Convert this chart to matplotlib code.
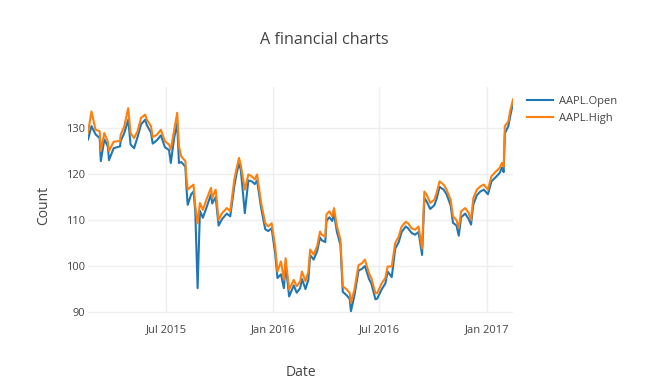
import matplotlib
matplotlib.use('Agg')
import matplotlib.pyplot as plt
import pandas as pd

# values
dates = [
    '2015-02-17', '2015-02-23', '2015-03-02', '2015-03-09', '2015-03-11', '2015-03-17',
    '2015-03-23', '2015-03-25', '2015-04-02', '2015-04-13', '2015-04-14', '2015-04-20',
    '2015-04-27', '2015-05-01', '2015-05-07', '2015-05-13', '2015-05-19', '2015-05-26',
    '2015-05-29', '2015-06-05', '2015-06-08', '2015-06-15', '2015-06-22', '2015-06-29',
    '2015-07-06', '2015-07-09', '2015-07-15', '2015-07-20', '2015-07-23', '2015-07-27',
    '2015-08-03', '2015-08-05', '2015-08-07', '2015-08-13', '2015-08-17', '2015-08-20',
    '2015-08-24', '2015-08-28', '2015-09-02', '2015-09-08', '2015-09-16', '2015-09-18',
    '2015-09-24', '2015-09-29', '2015-10-05', '2015-10-13', '2015-10-19', '2015-10-26',
    '2015-10-30', '2015-11-03', '2015-11-06', '2015-11-13', '2015-11-19', '2015-11-25',
    '2015-11-30', '2015-12-04', '2015-12-11', '2015-12-18', '2015-12-23', '2015-12-29',
    '2016-01-04', '2016-01-08', '2016-01-14', '2016-01-19', '2016-01-22', '2016-01-28',
    '2016-02-05', '2016-02-10', '2016-02-16', '2016-02-19', '2016-02-25', '2016-03-01',
    '2016-03-04', '2016-03-10', '2016-03-16', '2016-03-21', '2016-03-24', '2016-03-30',
    '2016-04-01', '2016-04-06', '2016-04-11', '2016-04-14', '2016-04-19', '2016-04-25',
    '2016-04-29', '2016-05-06', '2016-05-11', '2016-05-13', '2016-05-19', '2016-05-26',
    '2016-06-01', '2016-06-06', '2016-06-13', '2016-06-17', '2016-06-24', '2016-06-27',
    '2016-07-05', '2016-07-11', '2016-07-15', '2016-07-22', '2016-07-28', '2016-08-03',
    '2016-08-08', '2016-08-15', '2016-08-19', '2016-08-25', '2016-08-31', '2016-09-06',
    '2016-09-12', '2016-09-16', '2016-09-20', '2016-09-26', '2016-10-03', '2016-10-07',
    '2016-10-12', '2016-10-19', '2016-10-24', '2016-10-31', '2016-11-04', '2016-11-10',
    '2016-11-14', '2016-11-18', '2016-11-25', '2016-12-01', '2016-12-05', '2016-12-09',
    '2016-12-15', '2016-12-21', '2016-12-27', '2017-01-03', '2017-01-09', '2017-01-17',
    '2017-01-23', '2017-01-27', '2017-01-30', '2017-02-01', '2017-02-07', '2017-02-10',
    '2017-02-15',
]

aapl_high = [
    129.0, 133.6, 129.6, 129.3, 125.0, 128.9,
    127.0, 125.0, 127.0, 127.2, 128.5, 130.3,
    134.3, 128.9, 127.8, 129.3, 132.2, 132.9,
    131.8, 130.4, 128.0, 128.5, 129.6, 127.1,
    126.4, 125.3, 129.6, 133.3, 126.0, 123.8,
    122.8, 118.8, 116.6, 117.3, 117.7, 113.0,
    109.3, 113.7, 112.2, 114.4, 117.0, 114.8,
    116.6, 110.0, 111.5, 112.6, 111.9, 118.8,
    121.3, 123.5, 122.0, 116.6, 119.9, 119.5,
    118.8, 119.9, 113.7, 109.3, 108.6, 109.3,
    104.3, 98.8, 101.0, 97.0, 101.7, 94.9,
    97.0, 95.6, 96.7, 98.8, 96.7, 98.8,
    103.6, 102.5, 104.3, 107.5, 106.8, 106.4,
    111.2, 111.9, 110.8, 112.6, 108.6, 105.7,
    95.6, 94.9, 94.1, 92.0, 94.9, 100.2,
    100.6, 101.4, 98.4, 97.4, 94.1, 94.1,
    96.3, 97.4, 99.9, 99.9, 105.0, 106.4,
    108.6, 109.6, 109.3, 108.2, 107.9, 108.6,
    103.8, 116.2, 115.5, 113.7, 114.4, 115.9,
    118.4, 117.7, 116.6, 114.4, 110.8, 110.0,
    108.2, 111.9, 112.6, 111.5, 110.0, 114.8,
    116.6, 117.3, 117.7, 116.6, 119.5, 120.6,
    121.3, 122.4, 121.6, 130.4, 131.4, 133.6,
    136.2,
]

aapl_open = [
    127.5, 130.4, 128.6, 127.8, 122.8, 127.5,
    126.0, 123.0, 125.6, 126.0, 127.2, 128.8,
    131.8, 126.4, 125.6, 128.0, 130.8, 131.8,
    130.6, 129.0, 126.6, 127.3, 128.4, 125.8,
    125.2, 122.4, 128.0, 131.0, 122.4, 122.6,
    121.6, 116.8, 113.3, 115.6, 116.2, 111.8,
    95.2, 112.0, 110.5, 112.6, 115.6, 113.6,
    115.0, 108.8, 110.2, 111.4, 110.8, 117.4,
    120.2, 122.2, 121.0, 111.5, 118.6, 118.4,
    117.8, 118.6, 112.6, 108.0, 107.6, 108.2,
    102.8, 97.4, 98.2, 95.2, 100.4, 93.4,
    95.8, 94.2, 95.2, 97.2, 95.0, 97.0,
    102.4, 101.4, 103.2, 106.2, 105.6, 105.2,
    109.8, 110.6, 109.8, 111.4, 107.4, 104.6,
    94.4, 93.6, 92.8, 90.2, 93.6, 99.0,
    99.4, 100.0, 97.2, 96.2, 92.8, 92.9,
    95.0, 96.2, 98.8, 97.6, 103.8, 105.2,
    107.4, 108.6, 108.2, 107.2, 106.8, 107.4,
    102.4, 114.8, 114.0, 112.4, 113.2, 114.6,
    117.2, 116.6, 115.6, 113.2, 109.4, 108.8,
    106.6, 110.6, 111.4, 110.2, 109.0, 113.4,
    115.4, 116.2, 116.6, 115.6, 118.4, 119.4,
    120.2, 121.4, 120.4, 128.8, 130.4, 132.4,
    135.4,
]

x = pd.to_datetime(dates)
yticks = [90, 100, 110, 120, 130]
xticks = pd.to_datetime(['2015-07-01', '2016-01-01', '2016-07-01', '2017-01-01'])
xticklabels = ['Jul 2015', 'Jan 2016', 'Jul 2016', 'Jan 2017']

plt.rcParams['font.family'] = ['Open Sans', 'DejaVu Sans']
W, H = 658, 387
fig = plt.figure(figsize=(W / 100, H / 100), dpi=100)
left, right, top, bottom = 88, 513, 87, 313
ax = fig.add_axes([left / W, 1 - bottom / H, (right - left) / W, (bottom - top) / H])

ax.plot(x, aapl_open, color='#1f77b4', lw=1.5, label='AAPL.Open', solid_joinstyle='round')
ax.plot(x, aapl_high, color='#ff7f0e', lw=1.5, label='AAPL.High', solid_joinstyle='round')

ax.set_xlim(x[0], x[-1])
ax.set_ylim(89.8, 138.9)
ax.set_yticks(yticks)
ax.set_xticks(xticks)
ax.set_xticklabels(xticklabels)
ax.grid(True, color='#eeeeee', lw=1)
ax.set_axisbelow(True)
for s in ax.spines.values():
    s.set_visible(False)
ax.tick_params(axis='y', length=0, labelsize=8, colors='#444444', pad=2)
ax.tick_params(axis='x', length=0, labelsize=8, colors='#444444', pad=8)

ax.set_xlabel('Date', fontsize=10, color='#444444')
ax.xaxis.set_label_coords(0.5, -(365 - bottom) / (bottom - top))
ax.set_ylabel('Count', fontsize=10, color='#444444')
ax.yaxis.set_label_coords(-(left - 51) / (right - left), 1 - (205 - top) / (bottom - top))

fig.text(324 / W, 1 - 40 / H, 'A financial charts', ha='center', va='center',
         fontsize=11.6, color='#444444')

ax.legend(loc='upper left', bbox_to_anchor=(527 / W, 1 - 96 / H), bbox_transform=fig.transFigure,
          frameon=False, fontsize=8, labelcolor='#444444', handlelength=2.3,
          handletextpad=0.55, borderaxespad=0, borderpad=0, labelspacing=0.55)

fig.savefig('out.png', dpi=100)
